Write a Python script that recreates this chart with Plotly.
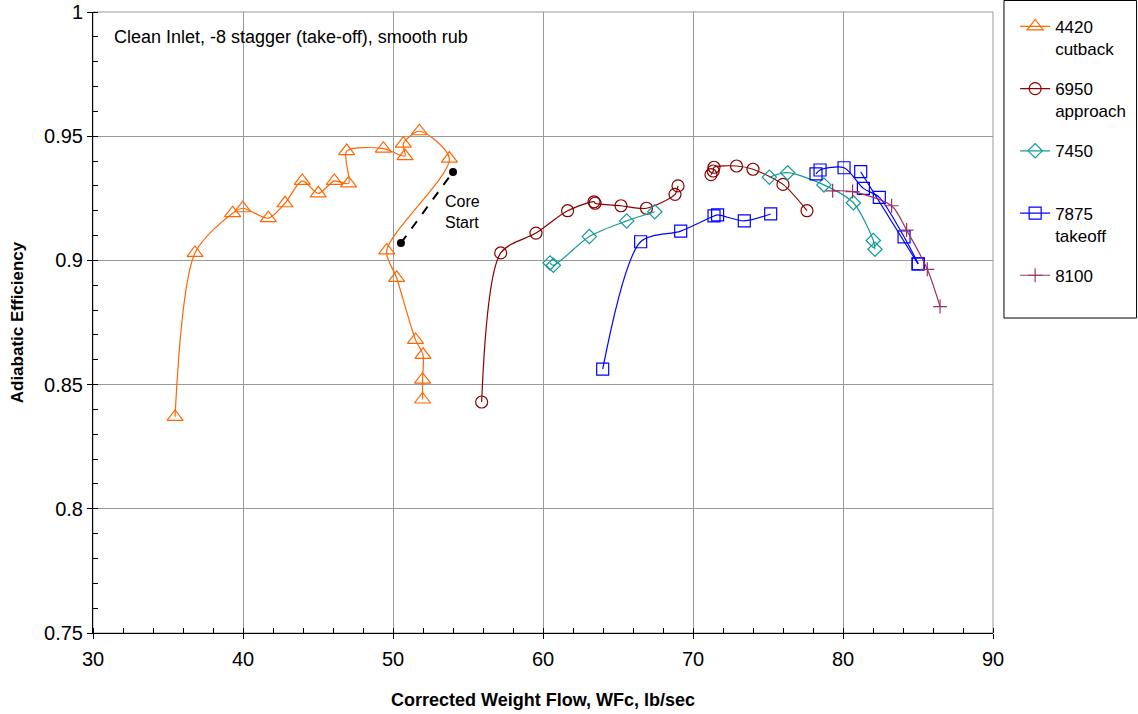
import plotly.graph_objects as go

# ---------------- data ----------------
x_4420 = [35.47, 36.8, 39.31, 39.98, 41.69, 42.8, 43.95, 45.02, 46.09, 47.04, 46.91, 49.36,
          50.8, 50.69, 51.76, 53.76, 49.58, 50.24, 51.5, 52.0, 51.97, 51.97]
y_4420 = [0.837, 0.903, 0.919, 0.921, 0.917, 0.923, 0.932, 0.927, 0.932, 0.931, 0.944, 0.945,
          0.942, 0.947, 0.952, 0.941, 0.904, 0.893, 0.868, 0.862, 0.852, 0.844]

x_6950 = [55.91, 57.18, 59.53, 61.64, 63.4, 63.47, 65.2, 66.9, 68.8, 69.0, None,
          71.2, 71.35, 71.4, 72.9, 74.0, 76.0, 77.6]
y_6950 = [0.843, 0.903, 0.911, 0.920, 0.9236, 0.923, 0.922, 0.921, 0.9266, 0.930, None,
          0.9345, 0.936, 0.9375, 0.938, 0.9367, 0.9306, 0.920]

x_7450 = [60.47, 60.69, 63.09, 65.58, 67.45, None, 75.09, 76.31, 78.73, 80.69, 82.02, 82.13]
y_7450 = [0.899, 0.898, 0.9096, 0.9159, 0.9196, None, 0.9335, 0.9353, 0.9304, 0.9232, 0.908, 0.9045]

x_7875 = [63.98, 66.51, 69.18, 71.4, 71.64, 73.42, 75.18, None,
          78.2, 78.47, 80.07, 81.36, 82.42, 84.07, 85.02, None, 81.18, 85.0]
y_7875 = [0.8562, 0.9075, 0.9118, 0.9179, 0.9183, 0.9159, 0.9187, None,
          0.9348, 0.9364, 0.9373, 0.929, 0.9254, 0.9095, 0.8986, None, 0.9357, 0.8986]

x_8100 = [79.31, 80.64, 83.24, 84.24, 85.62, 86.47]
y_8100 = [0.928, 0.9277, 0.922, 0.9122, 0.8964, 0.8814]

core_x = [50.53, 54.0]
core_y = [0.907, 0.9356]
core_label_x = 53.3
core_label_y = 0.9195

series_names = ["4420<br>cutback", "6950<br>approach", "7450<br> ", "7875<br>takeoff", "8100<br> "]
series_colors = ["#FF6600", "#8B0000", "#129A9A", "#0000FF", "#993366"]
series_symbols = ["triangle-up-open", "circle-open", "diamond-open", "square-open", "cross-thin-open"]
series_sizes = [14, 12, 11, 12, 10]

x_ticks = [30, 40, 50, 60, 70, 80, 90]
y_ticks = [0.75, 0.8, 0.85, 0.9, 0.95, 1.0]
y_tick_labels = ["0.75", "0.8", "0.85", "0.9", "0.95", "1"]

FONT = "Liberation Sans, Arial, sans-serif"

fig = go.Figure()
all_x = [x_4420, x_6950, x_7450, x_7875, x_8100]
all_y = [y_4420, y_6950, y_7450, y_7875, y_8100]
for i in range(5):
    fig.add_trace(go.Scatter(
        x=all_x[i], y=all_y[i], name=series_names[i], mode="lines+markers",
        line=dict(color=series_colors[i], width=1.2, shape="spline", smoothing=0.8),
        marker=dict(symbol=series_symbols[i], size=series_sizes[i], color=series_colors[i],
                    line=dict(color=series_colors[i], width=1.2)),
        legendgroup=str(i), connectgaps=False,
    ))

fig.add_trace(go.Scatter(
    x=core_x, y=core_y, mode="lines+markers", showlegend=False,
    line=dict(color="black", width=2, dash="dash"),
    marker=dict(color="black", size=8, symbol="circle"),
))

fig.add_annotation(x=core_label_x, y=core_label_y, text="Core<br>Start", showarrow=False,
                   xanchor="left", yanchor="middle", align="left",
                   font=dict(family=FONT, size=16, color="black"))
fig.add_annotation(xref="paper", yref="paper", x=0.021, y=0.96, text="Clean Inlet, -8 stagger (take-off), smooth rub",
                   showarrow=False, xanchor="left", yanchor="middle",
                   font=dict(family=FONT, size=18, color="black"))

# plot-area border and legend box
fig.add_shape(type="rect", xref="paper", yref="paper", x0=0, x1=1, y0=0, y1=1,
              line=dict(color="#999999", width=1), layer="below")
fig.add_shape(type="rect", xref="paper", yref="paper", x0=1.0122, x1=1.1595, y0=0.5072, y1=1.0185,
              line=dict(color="black", width=1))

fig.update_xaxes(range=[30, 90], tickvals=x_ticks, showgrid=True, gridcolor="#999999", gridwidth=1,
                 showline=True, linecolor="black", linewidth=1, ticks="outside", ticklen=5, tickcolor="black",
                 minor=dict(dtick=2, ticks="inside", ticklen=5, tickcolor="black", showgrid=False),
                 zeroline=False, tickfont=dict(family=FONT, size=20, color="black"),
                 ticklabelstandoff=3,
                 title=dict(text="<b>Corrected Weight Flow, WFc, lb/sec</b>", standoff=24,
                            font=dict(family=FONT, size=18, color="black")))
fig.update_yaxes(range=[0.75, 1.0], tickvals=y_ticks, ticktext=y_tick_labels, showgrid=True,
                 gridcolor="#999999", gridwidth=1,
                 showline=True, linecolor="black", linewidth=1, ticks="outside", ticklen=5, tickcolor="black",
                 minor=dict(dtick=0.01, ticks="inside", ticklen=5, tickcolor="black", showgrid=False),
                 zeroline=False, tickfont=dict(family=FONT, size=20, color="black"),
                 title=dict(text="<b>Adiabatic Efficiency</b>", standoff=16,
                            font=dict(family=FONT, size=17, color="black")))

fig.update_layout(
    width=1138, height=714,
    margin=dict(l=93, r=145, t=12, b=81, autoexpand=False),
    paper_bgcolor="white", plot_bgcolor="white",
    legend=dict(x=1.0246, xanchor="left", y=1.005, yanchor="top", valign="top",
                font=dict(family=FONT, size=17, color="black"), tracegroupgap=15,
                bgcolor="rgba(0,0,0,0)", borderwidth=0),
    showlegend=True,
)

fig.write_html("out.html")
